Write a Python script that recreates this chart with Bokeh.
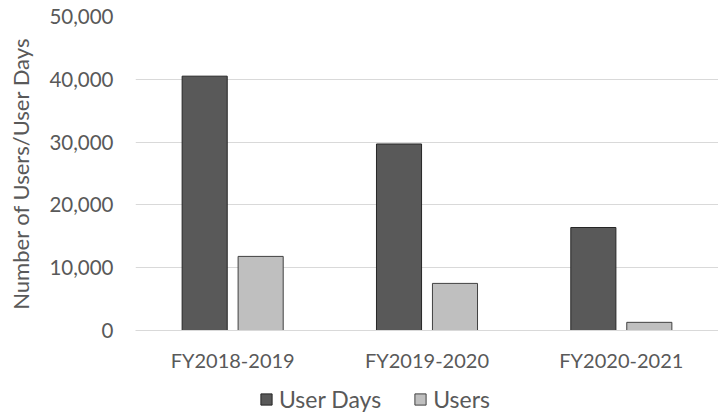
from bokeh.plotting import figure
from bokeh.layouts import column
from bokeh.models import Range1d, FixedTicker, NumeralTickFormatter, Legend, LegendItem
from bokeh.embed import file_html
from bokeh.resources import INLINE

categories = ["FY2018-2019", "FY2019-2020", "FY2020-2021"]
user_days = [40500, 29700, 16400]
users = [11800, 7500, 1300]
y_ticks = [0, 10000, 20000, 30000, 40000, 50000]

FONT = "Lato"
TXT = "#595959"
C_DAYS = dict(fill_color="#595959", line_color="#262626", line_width=1)
C_USERS = dict(fill_color="#bfbfbf", line_color="#404040", line_width=1)

cat_x = [i + 0.5 for i in range(len(categories))]
bar_w = 0.232
off = 0.144

p = figure(frame_width=583, frame_height=314,
           output_backend="svg", toolbar_location=None,
           x_range=Range1d(0, 3), y_range=Range1d(0, 50000),
           min_border_left=135, min_border_right=0, min_border_top=16, min_border_bottom=40)
p.outline_line_color = None

p.vbar(x=[c - off for c in cat_x], top=user_days, width=bar_w, bottom=0, **C_DAYS)
p.vbar(x=[c + off for c in cat_x], top=users, width=bar_w, bottom=0, **C_USERS)

p.xaxis.ticker = FixedTicker(ticks=cat_x)
p.xaxis.major_label_overrides = {c: lab for c, lab in zip(cat_x, categories)}
p.xaxis.major_tick_line_color = None
p.xaxis.minor_tick_line_color = None
p.xaxis.axis_line_color = "#d9d9d9"
p.xaxis.major_label_text_font = FONT
p.xaxis.major_label_text_font_size = "20px"
p.xaxis.major_label_text_color = TXT
p.xaxis.major_label_standoff = 11
p.xgrid.grid_line_color = None

p.yaxis.ticker = FixedTicker(ticks=y_ticks)
p.yaxis.formatter = NumeralTickFormatter(format="0,0")
p.yaxis.major_tick_line_color = None
p.yaxis.minor_tick_line_color = None
p.yaxis.axis_line_color = None
p.yaxis.major_label_text_font = FONT
p.yaxis.major_label_text_font_size = "20.5px"
p.yaxis.major_label_text_color = TXT
p.yaxis.major_label_standoff = 16
p.yaxis.axis_label = "Number of Users/User Days"
p.yaxis.axis_label_text_font = FONT
p.yaxis.axis_label_text_font_size = "22px"
p.yaxis.axis_label_text_font_style = "normal"
p.yaxis.axis_label_text_color = TXT
p.yaxis.axis_label_standoff = 12
p.ygrid.grid_line_color = "#d9d9d9"
p.ygrid.grid_line_width = 1

# legend strip below the chart (its swatch renderers are hidden)
q = figure(frame_width=583, frame_height=44, output_backend="svg", toolbar_location=None,
           x_range=Range1d(0, 3), y_range=Range1d(0, 50000),
           min_border_left=135, min_border_right=0, min_border_top=0, min_border_bottom=0)
q.axis.visible = False
q.grid.visible = False
q.outline_line_color = None
l1 = q.vbar(x=[c - off for c in cat_x], top=user_days, width=bar_w, visible=False, **C_DAYS)
l2 = q.vbar(x=[c + off for c in cat_x], top=users, width=bar_w, visible=False, **C_USERS)
legend = Legend(items=[LegendItem(label="User Days", renderers=[l1]),
                       LegendItem(label="Users", renderers=[l2])],
                orientation="horizontal", location=(124, 5),
                label_text_font=FONT, label_text_font_size="23px", label_text_color=TXT,
                glyph_width=14, glyph_height=14, spacing=32, label_standoff=6,
                label_height=26,
                padding=0, margin=0, background_fill_alpha=0, border_line_alpha=0,
                inactive_fill_alpha=0, click_policy="none")
q.add_layout(legend, "center")

open("out.html", "w").write(file_html(column(p, q, spacing=0), INLINE))
